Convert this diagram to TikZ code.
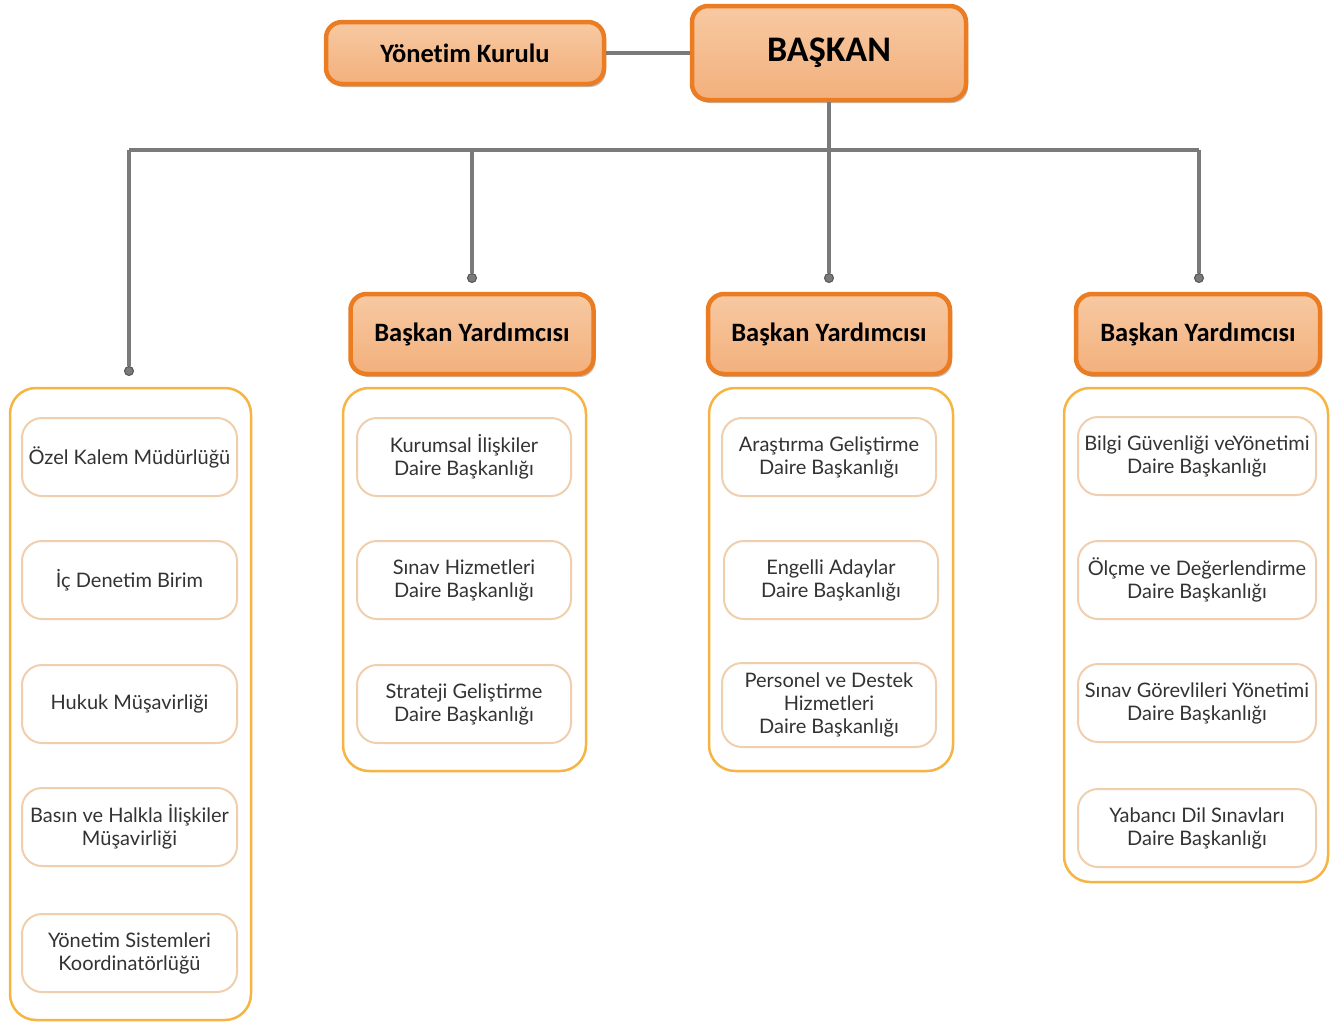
\documentclass[tikz,border=0pt]{standalone}
\usepackage{fontspec}
\setmainfont{Lato}
\newfontfamily\hdrfont[Ligatures=NoCommon]{Carlito}
\usetikzlibrary{shadows}
\definecolor{hdrfill}{HTML}{F3B07C}
\definecolor{hdrtop}{HTML}{F7C9A2}
\definecolor{hdrline}{HTML}{EC7C22}
\definecolor{contline}{HTML}{F6B443}
\definecolor{itemline}{HTML}{F0CFAE}
\definecolor{conn}{HTML}{7A7A7A}
\definecolor{itemtext}{HTML}{333333}
\tikzset{
  hdr/.style={draw=hdrline, line width=4.5pt, rounded corners=16pt, top color=hdrtop, bottom color=hdrfill,
    drop shadow={shadow xshift=2pt, shadow yshift=-3pt, opacity=0.25, fill=black},
    font=\hdrfont\bfseries\fontsize{26.5}{30}\selectfont, text=black, inner sep=0pt},
  cont/.style={draw=contline, line width=2.5pt, rounded corners=26pt, fill=white},
  item/.style={draw=itemline, line width=2pt, rounded corners=20pt, fill=white, align=center,
    font=\fontsize{20}{23}\selectfont, text=itemtext, inner sep=0pt},
  conline/.style={draw=conn, line width=4pt},
  dot/.style={circle, fill=conn, draw=conn!70!black, line width=1pt, minimum size=9pt, inner sep=0pt}
}
\begin{document}
\begin{tikzpicture}[x=1pt,y=-1pt]
\useasboundingbox (0,0) rectangle (1341,1023);
% containers
\draw[cont] (10,388) rectangle (251,1020);
\draw[cont] (343,388) rectangle (586,771);
\draw[cont] (709,388) rectangle (953,771);
\draw[cont] (1064,388) rectangle (1328,882);
% headers
\node[hdr, minimum width=278pt, minimum height=62pt] (yk) at (465,53) {Yönetim Kurulu};
\node[hdr, minimum width=274pt, minimum height=94pt, font=\hdrfont\bfseries\fontsize{36}{42}\selectfont] (bs) at (829,53) {\raisebox{-3pt}{BAŞKAN}};
\node[hdr, minimum width=243pt, minimum height=80pt] (by1) at (472,334) {Başkan Yardımcısı};
\node[hdr, minimum width=242pt, minimum height=80pt] (by2) at (829,334) {Başkan Yardımcısı};
\node[hdr, minimum width=244pt, minimum height=80pt] (by3) at (1198,334) {Başkan Yardımcısı};
% connectors
\coordinate (b0) at (129,150);
\coordinate (b1) at (472,150);
\coordinate (b2) at (829,150);
\coordinate (b3) at (1199,150);
\node[dot] (d0) at (129,371) {};
\node[dot] (d1) at (472,278) {};
\node[dot] (d2) at (829,278) {};
\node[dot] (d3) at (1199,278) {};
\draw[conline] (yk.east) -- (bs.west);
\draw[conline] (bs.south) -- (d2.north);
\draw[conline] (b0) -- (b3);
\draw[conline] (b0) -- (d0.north);
\draw[conline] (b1) -- (d1.north);
\draw[conline] (b3) -- (d3.north);
% column 0
\node[item, minimum width=215pt, minimum height=78pt] (a1) at (129.5,457) {Özel Kalem Müdürlüğü};
\node[item, minimum width=215pt, minimum height=78pt] (a2) at (129.5,580) {İç Denetim Birim};
\node[item, minimum width=215pt, minimum height=78pt] (a3) at (129.5,704) {Hukuk Müşavirliği};
\node[item, minimum width=215pt, minimum height=78pt] (a4) at (129.5,827) {Basın ve Halkla İlişkiler\\Müşavirliği};
\node[item, minimum width=215pt, minimum height=78pt] (a5) at (129.5,953) {Yönetim Sistemleri\\Koordinatörlüğü};
% column 1
\node[item, minimum width=214pt, minimum height=78pt] (b1a) at (464,457) {Kurumsal İlişkiler\\Daire Başkanlığı};
\node[item, minimum width=214pt, minimum height=78pt] (b1b) at (464,580) {Sınav Hizmetleri\\Daire Başkanlığı};
\node[item, minimum width=214pt, minimum height=78pt] (b1c) at (464,704) {Strateji Geliştirme\\Daire Başkanlığı};
% column 2
\node[item, minimum width=214pt, minimum height=78pt] (c1a) at (829,457) {Araştırma Geliştirme\\Daire Başkanlığı};
\node[item, minimum width=214pt, minimum height=78pt] (c1b) at (831,580) {Engelli Adaylar\\Daire Başkanlığı};
\node[item, minimum width=214pt, minimum height=84pt] (c1c) at (829,705) {Personel ve Destek\\Hizmetleri\\Daire Başkanlığı};
% column 3
\node[item, minimum width=238pt, minimum height=78pt] (e1a) at (1197,456) {Bilgi Güvenliği veYönetimi\\Daire Başkanlığı};
\node[item, minimum width=238pt, minimum height=78pt] (e1b) at (1197,580) {Ölçme ve Değerlendirme\\Daire Başkanlığı};
\node[item, minimum width=238pt, minimum height=78pt] (e1c) at (1197,703) {Sınav Görevlileri Yönetimi\\Daire Başkanlığı};
\node[item, minimum width=238pt, minimum height=78pt] (e1d) at (1197,828) {Yabancı Dil Sınavları\\Daire Başkanlığı};
\end{tikzpicture}
\end{document}
